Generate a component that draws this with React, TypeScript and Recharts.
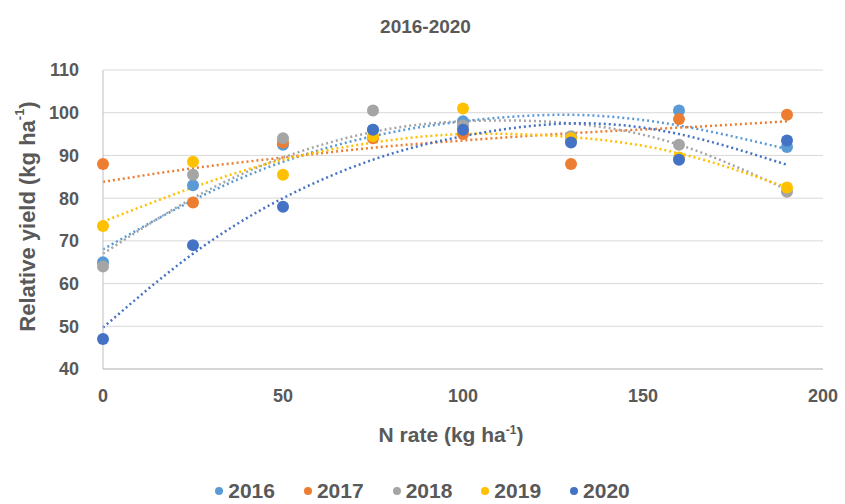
import React from 'react';
import {
  ComposedChart,
  Scatter,
  Line,
  XAxis,
  YAxis,
  CartesianGrid,
  Label
} from 'recharts';

const nRates = [0, 25, 50, 75, 100, 130, 160, 190];
const years = ['2016', '2017', '2018', '2019', '2020'];
const colors = ['#5B9BD5', '#ED7D31', '#A5A5A5', '#FFC000', '#4472C4'];

// measured relative yield
const y2016 = [65, 83, 92.5, 96, 98, 93.5, 100.5, 92];
const y2017 = [88, 79, 93, 94, 95, 88, 98.5, 99.5];
const y2018 = [64, 85.5, 94, 100.5, 97, 94.5, 92.5, 81.5];
const y2019 = [73.5, 88.5, 85.5, 94.5, 101, 94, 89.5, 82.5];
const y2020 = [47, 69, 78, 96, 96, 93, 89, 93.5];

// polynomial trendlines at the same N rates
const t2016 = [68, 79.5, 88.5, 94.5, 98, 99.5, 97, 91.5];
const t2017 = [83.8, 87, 89.5, 91.8, 93.5, 95.2, 96.5, 98];
const t2018 = [67, 80, 89.5, 95.5, 98, 97.5, 92.5, 82];
const t2019 = [74.5, 82.5, 89, 93, 95, 94.3, 90.5, 82.5];
const t2020 = [49.7, 67, 80, 89, 94.5, 97.5, 95, 87.8];

const yTicks = [40, 50, 60, 70, 80, 90, 100, 110];
const xTicks = [0, 50, 100, 150, 200];

const points = [y2016, y2017, y2018, y2019, y2020];
const trends = [t2016, t2017, t2018, t2019, t2020];

const toRows = (vals: number[]) => nRates.map((x, i) => ({ x, y: vals[i] }));

const FONT = '"Liberation Sans", Arial, sans-serif';
const TEXT = '#595959';

const Dot = (color: string) => (props: any) => {
  const { cx, cy } = props;
  return <circle cx={cx} cy={cy} r={6} fill={color} />;
};

const App = () => {
  return (
    <div style={{ position: 'absolute', left: 0, top: 0, width: 845, height: 504, background: '#fff' }}>
      <div
        style={{
          position: 'absolute',
          top: 16,
          width: 845,
          textAlign: 'center',
          fontFamily: FONT,
          fontWeight: 'bold',
          fontSize: 19,
          color: TEXT,
          paddingLeft: 6,
          boxSizing: 'border-box'
        }}
      >
        2016-2020
      </div>
      <ComposedChart
        width={845}
        height={504}
        margin={{ top: 70, right: 22, bottom: 105, left: 43 }}
        style={{ fontFamily: FONT }}
      >
        <CartesianGrid horizontal vertical={false} stroke="#D9D9D9" />
        <XAxis
          type="number"
          dataKey="x"
          domain={[0, 200]}
          ticks={xTicks}
          allowDuplicatedCategory={false}
          axisLine={{ stroke: '#BFBFBF' }}
          tickLine={false}
          tickMargin={14}
          tick={{ fill: TEXT, fontSize: 18, fontWeight: 'bold' }}
        >
          <Label
            content={(props: any) => {
              const vb = props.viewBox;
              return (
                <text
                  x={vb.x + vb.width / 2 - 12}
                  y={vb.y + 73}
                  textAnchor="middle"
                  fill={TEXT}
                  fontWeight="bold"
                  fontSize={21}
                  fontFamily={FONT}
                >
                  N rate (kg ha
                  <tspan fontSize={12} dy={-8}>-1</tspan>
                  <tspan dy={8}>)</tspan>
                </text>
              );
            }}
          />
        </XAxis>
        <YAxis
          type="number"
          domain={[40, 110]}
          ticks={yTicks}
          width={60}
          axisLine={{ stroke: '#BFBFBF' }}
          tickLine={false}
          tickMargin={18}
          tick={{ fill: TEXT, fontSize: 18, fontWeight: 'bold' }}
        >
          <Label
            content={(props: any) => {
              const vb = props.viewBox;
              const cx = 27;
              const cy = vb.y + vb.height / 2 - 3;
              return (
                <text
                  x={cx}
                  y={cy}
                  transform={`rotate(-90 ${cx} ${cy})`}
                  textAnchor="middle"
                  dominantBaseline="central"
                  fill={TEXT}
                  fontWeight="bold"
                  fontSize={22}
                  fontFamily={FONT}
                >
                  Relative yield (kg ha
                  <tspan fontSize={13} dy={-8}>-1</tspan>
                  <tspan dy={8}>)</tspan>
                </text>
              );
            }}
          />
        </YAxis>
        {years.map((yr, i) => (
          <Scatter
            key={`s-${yr}`}
            name={yr}
            data={toRows(points[i])}
            dataKey="y"
            fill={colors[i]}
            shape={Dot(colors[i])}
            isAnimationActive={false}
          />
        ))}
        {years.map((yr, i) => (
          <Line
            key={`t-${yr}`}
            name={`trend ${yr}`}
            data={toRows(trends[i])}
            dataKey="y"
            type="natural"
            stroke={colors[i]}
            strokeWidth={2.5}
            strokeDasharray="2 3"
            dot={false}
            activeDot={false}
            legendType="none"
            isAnimationActive={false}
          />
        ))}
      </ComposedChart>
      <div
        style={{
          position: 'absolute',
          top: 479,
          left: 0,
          width: 845,
          display: 'flex',
          justifyContent: 'center',
          gap: 29,
          fontFamily: FONT,
          fontWeight: 'bold',
          fontSize: 21,
          color: TEXT,
          boxSizing: 'border-box'
        }}
      >
        {years.map((yr, i) => (
          <span key={yr} style={{ display: 'flex', alignItems: 'center' }}>
            <span
              style={{
                width: 8,
                height: 8,
                borderRadius: 4,
                background: colors[i],
                marginRight: 5
              }}
            />
            {yr}
          </span>
        ))}
      </div>
    </div>
  );
};

export default App;
